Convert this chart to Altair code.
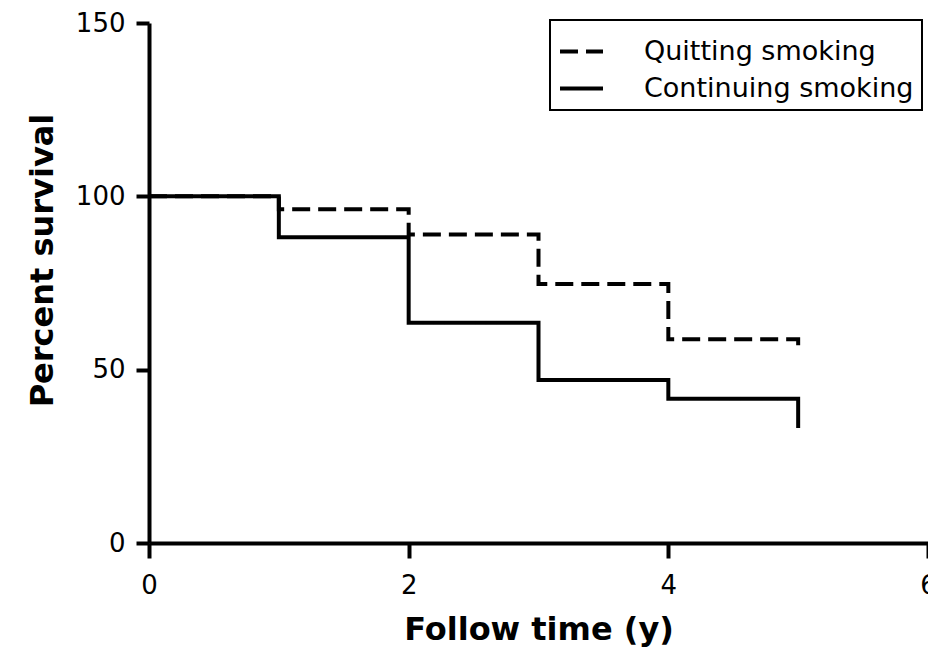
import altair as alt
import pandas as pd

# Kaplan-Meier step data
groups = ["Quitting smoking", "Continuing smoking"]
quit_t = [0, 1, 2, 3, 4, 5, 5]
quit_s = [100, 96.3, 89.0, 74.7, 58.8, 58.8, 55.8]
cont_t = [0, 1, 2, 3, 4, 5, 5]
cont_s = [100, 88.2, 63.5, 47.0, 41.6, 41.6, 33.2]

x_ticks = [0, 2, 4, 6]
y_ticks = [0, 50, 100, 150]

rows = []
for i, (t, s) in enumerate(zip(quit_t, quit_s)):
    rows.append({"t": t, "s": s, "group": groups[0], "ord": i})
for i, (t, s) in enumerate(zip(cont_t, cont_s)):
    rows.append({"t": t, "s": s, "group": groups[1], "ord": i})
df = pd.DataFrame(rows)

FONT = "DejaVu Sans"

chart = alt.Chart(df).mark_line(
    interpolate="step-after", strokeWidth=4, color="black", strokeCap="butt"
).encode(
    x=alt.X(
        "t:Q",
        scale=alt.Scale(domain=[0, 6], nice=False, zero=False),
        axis=alt.Axis(
            values=x_ticks, title="Follow time (y)", tickSize=15, labelPadding=14,
            labelFlush=False, titleY=96, titleBaseline="alphabetic",
        ),
    ),
    y=alt.Y(
        "s:Q",
        scale=alt.Scale(domain=[0, 150], nice=False),
        axis=alt.Axis(
            values=y_ticks, title="Percent survival", tickSize=13, labelPadding=11,
            titleX=-97, titleY=237, titleAlign="center", titleBaseline="alphabetic",
            titleAngle=270,
        ),
    ),
    strokeDash=alt.StrokeDash(
        "group:N",
        sort=groups,
        scale=alt.Scale(domain=groups, range=[[18, 8], [1, 0]]),
        legend=alt.Legend(
            title=None, orient="none", legendX=401, legendY=-3,
            symbolType="stroke", symbolSize=1849, symbolStrokeWidth=4,
            symbolStrokeColor="black", labelFontSize=27, labelFont=FONT,
            labelColor="black", labelOffset=39, padding=8, rowPadding=-6.5,
            strokeColor="black", labelLimit=400,
        ),
    ),
    order="ord:Q",
).properties(
    width=779,
    height=520,
    autosize=alt.AutoSizeParams(type="none"),
    padding={"left": 141, "top": 15, "right": 0, "bottom": 105},
).configure_view(
    stroke=None
).configure_axis(
    grid=False,
    domainColor="black",
    domainWidth=4,
    tickColor="black",
    tickWidth=4,
    labelFont=FONT,
    labelFontSize=26,
    labelColor="black",
    titleFont=FONT,
    titleFontSize=32,
    titleFontWeight="bold",
    titleColor="black",
).configure_legend(
    strokeWidth=2
)

chart.save("out.html", embed_options={"renderer": "svg", "actions": False})
